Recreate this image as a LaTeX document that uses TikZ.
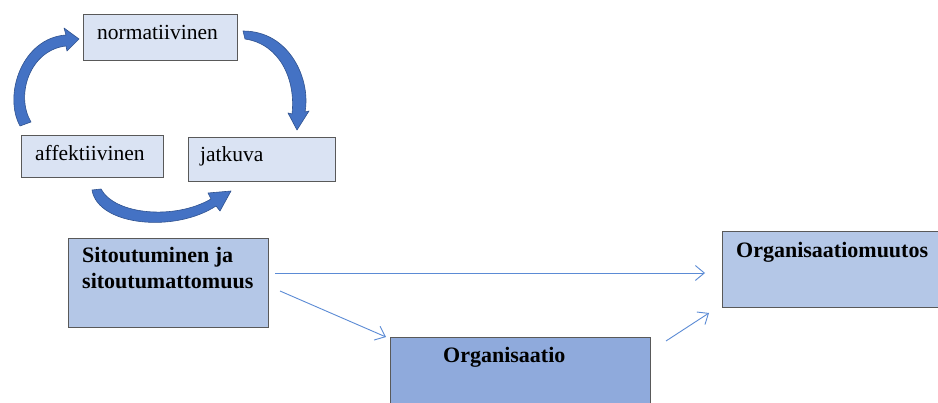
\documentclass[tikz,border=0pt]{standalone}
\usepackage{fontspec}
\setmainfont{Liberation Serif}
\usetikzlibrary{arrows.meta}
\definecolor{boxlight}{HTML}{DAE3F3}
\definecolor{boxmid}{HTML}{B4C7E7}
\definecolor{boxdark}{HTML}{8FAADC}
\definecolor{boxedge}{HTML}{595959}
\definecolor{thinblue}{HTML}{5B8BD5}
\definecolor{blockfill}{HTML}{4472C4}
\definecolor{blockedge}{HTML}{2F528F}
\tikzset{
  box/.style={draw=boxedge, line width=0.9pt, rectangle, inner sep=0pt, anchor=north west},
  lbl/.style={anchor=base west, inner sep=0pt, font=\fontsize{21.5}{26}\selectfont},
  blbl/.style={anchor=base west, inner sep=0pt, align=left, font=\fontsize{22}{26}\selectfont\bfseries},
  thin/.style={draw=thinblue, line width=0.9pt, -{Straight Barb[length=9pt,width=15pt]}},
  block/.style={fill=blockfill, draw=blockedge, line width=0.6pt, line join=round}
}
\begin{document}
\begin{tikzpicture}[x=1pt,y=-1pt]
\useasboundingbox (0,0) rectangle (938,403);
\clip (0,0) rectangle (938,403);
\fill[white] (0,0) rectangle (938,403);

% small boxes
\node[box, fill=boxlight, minimum width=154pt, minimum height=46pt] (norm) at (83,14) {};
\node[lbl] (normt) at (97,40) {normatiivinen};
\node[box, fill=boxlight, minimum width=142pt, minimum height=42pt] (aff) at (21,135) {};
\node[lbl] (afft) at (35,161) {affektiivinen};
\node[box, fill=boxlight, minimum width=147pt, minimum height=44pt] (jat) at (188,137) {};
\node[lbl] (jatt) at (200,162) {jatkuva};

% big boxes
\node[box, fill=boxmid, minimum width=200pt, minimum height=89pt] (sit) at (68,238) {};
\node[blbl] (sitt) at (82,289) {Sitoutuminen ja\\sitoutumattomuus};
\node[box, fill=boxdark, minimum width=260pt, minimum height=80pt] (org) at (390,337) {};
\node[blbl] (orgt) at (443,363) {Organisaatio};
\node[box, fill=boxmid, minimum width=230pt, minimum height=76pt] (muu) at (722,231) {};
\node[blbl] (muut) at (736,258) {Organisaatiomuutos};

% thin connectors
\coordinate (a1s) at (275,273);
\coordinate (a1e) at (705,273);
\coordinate (a2s) at (280,291);
\coordinate (a2e) at (386,337);
\coordinate (a3s) at (666,341);
\coordinate (a3e) at (709,313);
\draw[thin] (a1s) -- (a1e);
\draw[thin] (a2s) -- (a2e);
\draw[thin] (a3s) -- (a3e);

% curved block arrows
% left: affektiivinen -> normatiivinen
\path[block] (20,126) .. controls (3,95) and (22,38) .. (66,35)
  -- (64,28) -- (79,39) -- (67,51) -- (66,46)
  .. controls (30,50) and (15,95) .. (31,122) -- cycle;
% right: normatiivinen -> jatkuva
\path[block] (243,31) .. controls (290,31) and (311,80) .. (305,112)
  -- (309,111) -- (297,130) -- (288,113) -- (292,114)
  .. controls (296,80) and (280,44) .. (245,39) -- cycle;
% bottom: affektiivinen -> jatkuva
\path[block] (92,190) .. controls (98,226) and (175,233) .. (216,206)
  -- (220,211) -- (231,191) -- (208,193) -- (211,199)
  .. controls (175,220) and (115,215) .. (101,189) -- cycle;
\end{tikzpicture}
\end{document}
